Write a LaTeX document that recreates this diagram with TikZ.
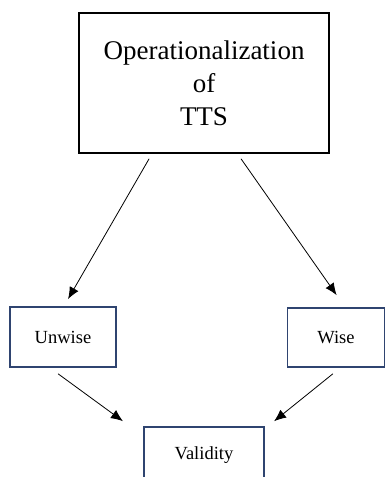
\documentclass[tikz,border=0pt]{standalone}
\usepackage{fontspec}
\setmainfont{Liberation Serif}
\usepackage{tikz}
\usetikzlibrary{arrows.meta, positioning}
\definecolor{boxblue}{HTML}{2F4470}
\tikzset{
    bigbox/.style={draw=black, line width=1.5pt, rectangle, align=center, inner sep=0pt, font=\rmfamily\fontsize{27}{33}\selectfont},
    smallbox/.style={draw=boxblue, line width=1.8pt, rectangle, align=center, inner sep=0pt, font=\rmfamily\fontsize{18.5}{22}\selectfont},
    link/.style={line width=0.8pt, -{Latex[length=12pt,width=10pt]}},
}

\begin{document}
\begin{tikzpicture}[x=1pt,y=-1pt]
    \useasboundingbox (0,0) rectangle (385,477);
    \node[bigbox, minimum width=250pt, minimum height=140pt] (v1) at (204,83) {Operationalization \\ of \\ TTS};
    \node[smallbox, minimum width=106pt, minimum height=60pt] (v2) at (63,337) {Unwise};
    \node[smallbox, minimum width=97pt, minimum height=59pt] (v3) at (336,337.5) {Wise};
    \node[smallbox, minimum width=120pt, minimum height=60pt, text height=13pt, text depth=4pt] (v4) at (204,457) {\raisebox{2pt}{Validity}};

    \draw [link, shorten <=5.8pt, shorten >=8.1pt] ([xshift=-52pt]v1.south) -- ([xshift=1pt]v2.north);
    \draw [link, shorten <=6.1pt, shorten >=14.6pt] ([xshift=33.5pt]v1.south) -- ([xshift=9pt]v3.north);
    \draw [link, shorten <=10pt, shorten >=8.4pt] ([xshift=-13pt]v2.south) -- ([xshift=-74.3pt]v4.north);
    \draw [link, shorten <=9.4pt, shorten >=7.8pt] ([xshift=4.2pt]v3.south) -- ([xshift=64pt]v4.north);

\end{tikzpicture}
\end{document}
